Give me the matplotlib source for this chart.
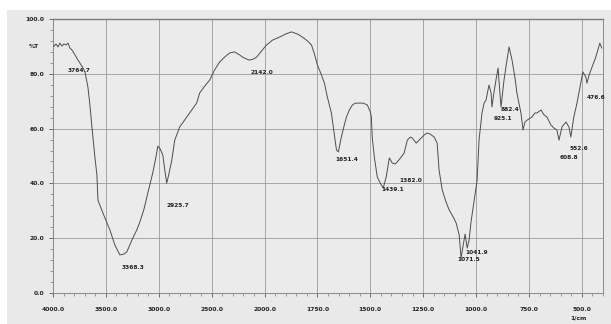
import numpy as np
import matplotlib
matplotlib.use("Agg")
import matplotlib.pyplot as plt
from matplotlib.patches import Rectangle

# ---- data (wavenumber in 1/cm, transmittance in %T) ----
wavenumber = [3991, 3972, 3953, 3934, 3915, 3896, 3877, 3858, 3840, 3821, 3792, 3764, 3745, 3717, 3698,
              3670, 3651, 3632, 3604, 3585, 3575, 3557, 3528, 3500, 3462, 3415, 3368, 3330, 3302, 3274,
              3245, 3208, 3179, 3142, 3113, 3085, 3057, 3028, 3009, 2991, 2962, 2943, 2925, 2906, 2877,
              2849, 2802, 2736, 2642, 2613, 2566, 2519, 2472, 2425, 2377, 2330, 2283, 2236, 2208, 2170,
              2142, 2104, 2075, 2028, 1991, 1962, 1929, 1901, 1873, 1844, 1821, 1797, 1778, 1764, 1750,
              1731, 1717, 1703, 1684, 1670, 1660, 1651, 1637, 1623, 1613, 1599, 1585, 1571, 1552, 1533,
              1514, 1500, 1495, 1491, 1481, 1467, 1453, 1439, 1425, 1410, 1396, 1382, 1373, 1354, 1340,
              1325, 1311, 1302, 1283, 1269, 1255, 1245, 1231, 1217, 1198, 1184, 1175, 1160, 1142, 1127,
              1108, 1094, 1080, 1071, 1061, 1052, 1042, 1033, 1024, 1009, 995, 986, 972, 962, 953,
              939, 929, 925, 915, 906, 896, 892, 882, 873, 868, 854, 844, 830, 816, 807,
              788, 778, 769, 759, 736, 722, 712, 693, 679, 665, 646, 632, 618, 608, 594,
              575, 561, 552, 538, 523, 514, 495, 481, 476, 467, 457, 434, 415, 406]
transmittance = [90.1, 90.9, 89.8, 91.2, 90.1, 90.9, 90.5, 91.2, 89.4, 88.7, 86.9, 85.0, 83.9, 82.1, 80.7,
                 75.2, 68.6, 60.6, 49.6, 43.1, 33.9, 32.1, 29.2, 26.6, 23.0, 17.5, 13.9, 14.2, 15.0, 17.5,
                 20.1, 23.0, 25.9, 30.3, 35.0, 39.4, 43.8, 49.3, 53.6, 52.9, 50.4, 44.9, 40.1, 43.1, 48.5,
                 55.8, 60.6, 64.2, 69.3, 73.0, 75.5, 77.7, 81.4, 84.3, 86.1, 87.6, 88.0, 86.9, 86.1, 85.4,
                 85.0, 85.4, 86.1, 88.3, 90.5, 92.3, 93.4, 94.5, 95.3, 94.5, 93.4, 92.0, 90.5, 87.2, 83.2,
                 79.6, 76.6, 71.5, 65.7, 57.7, 52.2, 51.5, 56.9, 61.3, 64.2, 66.8, 68.6, 69.3, 69.3, 69.3,
                 68.6, 66.1, 64.2, 56.9, 49.6, 42.3, 40.1, 38.3, 42.3, 49.3, 47.4, 47.1, 47.8, 49.6, 51.1,
                 55.8, 56.9, 56.6, 54.7, 55.8, 56.9, 57.7, 58.4, 58.0, 56.9, 54.7, 44.9, 37.6, 33.2, 30.3,
                 27.7, 25.5, 21.2, 12.8, 17.5, 21.5, 16.4, 19.3, 25.9, 33.9, 41.2, 55.8, 65.7, 69.3, 70.4,
                 75.9, 73.0, 67.9, 73.4, 77.7, 82.1, 77.7, 67.9, 74.1, 77.7, 85.0, 89.8, 85.0, 78.5, 73.0,
                 65.7, 59.5, 62.4, 63.1, 64.2, 65.7, 65.7, 66.8, 65.0, 64.2, 61.3, 60.2, 59.5, 55.8, 60.6,
                 62.4, 60.6, 56.9, 64.2, 69.3, 73.0, 80.7, 78.8, 76.6, 79.2, 81.4, 86.1, 91.2, 89.4]

peak_wn = [3764, 3368, 2925, 2142, 1651, 1439, 1382, 1071, 1042, 925, 882, 608, 552, 476]
peak_t = [85.0, 13.9, 40.1, 85.0, 51.5, 38.3, 47.1, 12.8, 16.4, 67.9, 67.9, 55.8, 56.9, 76.6]
peak_text = ["3764.7", "3368.3", "2925.7", "2142.0", "1651.4", "1439.1", "1382.0",
             "1071.5", "1041.9", "925.1", "882.4", "608.8", "552.6", "476.6"]
# label offsets (pixels, right / down)
peak_off = [(1, 10), (13, 13), (11, 22), (12, 12), (8, 8), (10, 1), (15, 17),
            (8, 2), (9, 4), (11, 12), (9, 3), (10, 17), (8, 11), (9, 14)]

x_major = [4000, 3500, 3000, 2500, 2000, 1750, 1500, 1250, 1000, 750, 500]
x_labels = ["4000.0", "3500.0", "3000.0", "2500.0", "2000.0", "1750.0", "1500.0",
            "1250.0", "1000.0", "750.0", "500.0"]
y_major = [0, 20, 40, 60, 80, 100]
y_labels = ["0.0", "20.0", "40.0", "60.0", "80.0", "100.0"]


def fwd(w):
    w = np.asarray(w, dtype=float)
    return np.where(w > 2000, 2000 + (w - 2000) / 2.0, w)


def inv(p):
    p = np.asarray(p, dtype=float)
    return np.where(p > 2000, 2000 + (p - 2000) * 2.0, p)


W, H = 611, 324
fig = plt.figure(figsize=(W / 100, H / 100), dpi=100, facecolor="white")
bg = Rectangle((7 / W, 0), 1 - 7 / W, (H - 10) / H, transform=fig.transFigure,
               facecolor="#e9e9e9", edgecolor="none", zorder=-10)
fig.patches.append(bg)

ax = fig.add_axes([53 / W, (H - 293) / H, 550 / W, 274 / H], zorder=2)
ax.set_facecolor("#ebebeb")
ax.set_xscale("function", functions=(fwd, inv))
ax.set_xlim(4000, 400)
ax.set_ylim(0, 100)

ax.plot(wavenumber, transmittance, color="#4d4d4d", lw=0.7, zorder=3)

for wn, t, txt, (dx, dy) in zip(peak_wn, peak_t, peak_text, peak_off):
    ax.annotate(txt, xy=(wn, t), xytext=(dx * 0.72, -dy * 0.72), textcoords="offset points",
                ha="center", va="center", fontsize=4.2, color="#222222", fontweight="bold", zorder=4)

ax.set_xticks(x_major)
ax.set_xticklabels(x_labels)
minor_x = list(range(4000, 2000, -100)) + list(range(2000, 399, -50))
ax.set_xticks(minor_x, minor=True)
ax.set_yticks(y_major)
ax.set_yticklabels(y_labels)
ax.set_yticks(np.arange(0, 101, 4), minor=True)

ax.tick_params(axis="both", which="major", labelsize=4.3, colors="#555555", labelcolor="#222222",
               length=3, width=0.6, direction="out")
ax.tick_params(axis="x", which="major", pad=7)
ax.tick_params(axis="y", which="major", pad=3)
ax.tick_params(axis="both", which="minor", length=2, width=0.5, color="#777777", direction="out")
for lab in ax.get_xticklabels() + ax.get_yticklabels():
    lab.set_fontweight("bold")

ax.grid(True, which="major", color="#9a9a9a", lw=0.6)
for side in ["left", "bottom", "right"]:
    ax.spines[side].set_color("#8a8a8a")
    ax.spines[side].set_linewidth(0.7)
ax.spines["top"].set_color("#7a7a7a")
ax.spines["top"].set_linewidth(1.0)

fig.text(34 / W, (H - 47) / H, "%T", fontsize=4.3, ha="center", va="center",
         color="#222222", fontweight="bold")
fig.text(578 / W, (H - 318) / H, "1/cm", fontsize=4.3, ha="center", va="center",
         color="#222222", fontweight="bold")

fig.savefig("out.png", dpi=100, facecolor=fig.get_facecolor())
